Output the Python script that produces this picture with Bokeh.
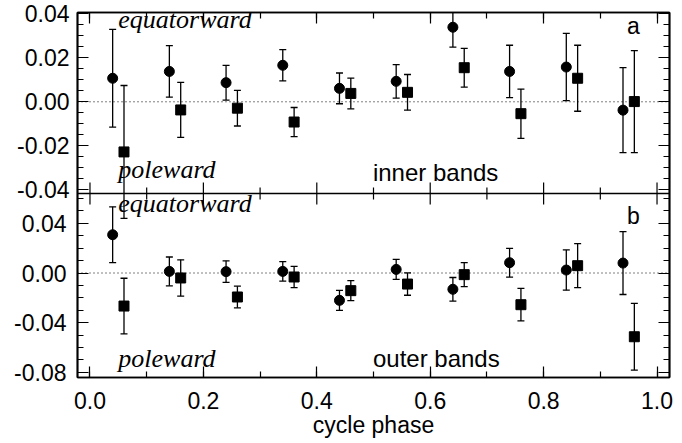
from bokeh.plotting import figure
from bokeh.models import (ColumnDataSource, Whisker, TeeHead, Span, Label, LinearAxis,
                          SingleIntervalTicker, FixedTicker, PrintfTickFormatter, Range1d)
from bokeh.embed import file_html
from bokeh.resources import INLINE

# ---- data ----
phase_circ = [0.04, 0.14, 0.24, 0.34, 0.44, 0.54, 0.64, 0.74, 0.84, 0.94]
phase_sq = [0.06, 0.16, 0.26, 0.36, 0.46, 0.56, 0.66, 0.76, 0.86, 0.96]

inner_circ = [0.0107, 0.0138, 0.0087, 0.0166, 0.0061, 0.0093, 0.0339, 0.0138, 0.0158, -0.0038]
inner_circ_err = [0.0222, 0.0117, 0.0079, 0.0071, 0.0070, 0.0076, 0.0090, 0.0119, 0.0153, 0.0193]
inner_sq = [-0.0228, -0.0037, -0.0029, -0.0092, 0.0038, 0.0043, 0.0155, -0.0054, 0.0107, 0.0001]
inner_sq_err = [0.0302, 0.0125, 0.0081, 0.0066, 0.0070, 0.0081, 0.0088, 0.0112, 0.0150, 0.0232]

outer_circ = [0.0308, 0.0013, 0.0011, 0.0013, -0.0220, 0.0029, -0.0131, 0.0083, 0.0024, 0.0080]
outer_circ_err = [0.0225, 0.0116, 0.0087, 0.0078, 0.0080, 0.0081, 0.0095, 0.0116, 0.0162, 0.0253]
outer_sq = [-0.0266, -0.0040, -0.0193, -0.0032, -0.0142, -0.0089, -0.0013, -0.0255, 0.0059, -0.0513]
outer_sq_err = [0.0224, 0.0146, 0.0087, 0.0085, 0.0081, 0.0090, 0.0097, 0.0131, 0.0177, 0.0268]

x_major_ticks = [0.0, 0.2, 0.4, 0.6, 0.8, 1.0]
x_minor_ticks = [0.1, 0.3, 0.5, 0.7, 0.9]
inner_yticks = [-0.04, -0.02, 0.0, 0.02, 0.04]
inner_yminor = [-0.04, -0.035, -0.03, -0.025, -0.02, -0.015, -0.01, -0.005, 0.0,
                0.005, 0.01, 0.015, 0.02, 0.025, 0.03, 0.035, 0.04]
outer_yticks = [-0.08, -0.04, 0.0, 0.04]
outer_yminor = [-0.08, -0.07, -0.06, -0.05, -0.04, -0.03, -0.02, -0.01, 0.0,
                0.01, 0.02, 0.03, 0.04, 0.05, 0.06]

# panel limits (data) and panel heights (px)
X_LIM = (-0.022, 1.022)
INNER_LIM = (-0.0417, 0.0406)
OUTER_LIM = (-0.0841, 0.064)
INNER_H = 181
OUTER_H = 184
FRAME_H = INNER_H + OUTER_H

FONT = "Liberation Sans"
SERIF = "Liberation Serif"
TICKFS = "23px"
LABEL_W = 60  # width Bokeh reserves for the first labelled y axis

inner_span = INNER_LIM[1] - INNER_LIM[0]
main_range = Range1d(INNER_LIM[1] - inner_span * FRAME_H / INNER_H, INNER_LIM[1])
outer_span = OUTER_LIM[1] - OUTER_LIM[0]
outer_range = Range1d(OUTER_LIM[0], OUTER_LIM[0] + outer_span * FRAME_H / OUTER_H)

p = figure(frame_width=592, frame_height=FRAME_H, x_range=Range1d(*X_LIM), y_range=main_range,
           output_backend="svg", toolbar_location=None,
           x_axis_location=None, y_axis_location=None,
           min_border_left=77, min_border_right=13, min_border_top=12, min_border_bottom=0)
p.extra_y_ranges = {"outer": outer_range}
p.grid.visible = False
p.outline_line_color = "black"
p.outline_line_width = 1.5
p.background_fill_color = "white"
p.border_fill_color = "white"


def style_axis(ax, labels=True, fmt="%.2f"):
    ax.major_tick_in = 11
    ax.major_tick_out = 0
    ax.minor_tick_in = 6
    ax.minor_tick_out = 0
    ax.axis_line_color = "black"
    ax.axis_line_width = 1.5
    ax.major_tick_line_color = "black"
    ax.minor_tick_line_color = "black"
    ax.major_tick_line_width = 1.2
    ax.minor_tick_line_width = 1.2
    if labels:
        ax.major_label_text_font = FONT
        ax.major_label_text_font_size = TICKFS
        ax.major_label_text_color = "black"
        ax.major_label_standoff = 8
        ax.formatter = PrintfTickFormatter(format=fmt)
    else:
        ax.major_label_text_font_size = "0px"
        ax.major_label_standoff = 0
        ax.major_label_text_alpha = 0


xt = SingleIntervalTicker(interval=0.2, num_minor_ticks=2)

# left: ticks of the lower panel (no labels), then labelled upper-panel axis,
# then the labels of the lower panel pulled back next to the frame
ax = LinearAxis(ticker=FixedTicker(ticks=outer_yticks, minor_ticks=outer_yminor), y_range_name="outer")
style_axis(ax, False)
p.add_layout(ax, "left")
ax = LinearAxis(ticker=FixedTicker(ticks=inner_yticks, minor_ticks=inner_yminor))
style_axis(ax, True)
p.add_layout(ax, "left")
ax = LinearAxis(ticker=FixedTicker(ticks=outer_yticks, minor_ticks=[]), y_range_name="outer")
style_axis(ax, True)
ax.major_label_standoff = 8 - LABEL_W
ax.axis_line_alpha = 0
ax.major_tick_in = 0
ax.minor_tick_in = 0
ax.major_tick_line_alpha = 0
ax.minor_tick_line_alpha = 0
p.add_layout(ax, "left")

# right: ticks only
for tk, rn in ((FixedTicker(ticks=inner_yticks, minor_ticks=inner_yminor), "default"),
               (FixedTicker(ticks=outer_yticks, minor_ticks=outer_yminor), "outer")):
    ax = LinearAxis(ticker=tk, y_range_name=rn)
    style_axis(ax, False)
    p.add_layout(ax, "right")

# top axis
ax = LinearAxis(ticker=xt)
style_axis(ax, False)
p.add_layout(ax, "above")

# bottom axis
ax = LinearAxis(ticker=xt)
style_axis(ax, True, "%.1f")
ax.major_label_standoff = 14
ax.axis_label = "cycle phase"
ax.axis_label_text_font = FONT
ax.axis_label_text_font_size = TICKFS
ax.axis_label_text_font_style = "normal"
ax.axis_label_text_color = "black"
ax.axis_label_standoff = 0
p.add_layout(ax, "below")

# panel boundary with ticks pointing into both panels
p.add_layout(Span(location=INNER_LIM[0], dimension="width", line_color="black", line_width=1.5))
p.scatter(x=x_major_ticks, y=[INNER_LIM[0]] * len(x_major_ticks), marker="dash",
          angle=90, angle_units="deg", size=22, line_color="black", line_width=1.2)
p.scatter(x=x_minor_ticks, y=[INNER_LIM[0]] * len(x_minor_ticks), marker="dash",
          angle=90, angle_units="deg", size=12, line_color="black", line_width=1.2)


def add_panel(circ, circ_err, sq, sq_err, rname):
    p.add_layout(Span(location=0, dimension="width", line_color="black",
                      line_width=1, line_dash="1 3", y_range_name=rname))
    upper_c = [v + e for v, e in zip(circ, circ_err)]
    lower_c = [v - e for v, e in zip(circ, circ_err)]
    upper_s = [v + e for v, e in zip(sq, sq_err)]
    lower_s = [v - e for v, e in zip(sq, sq_err)]
    src_c = ColumnDataSource(dict(x=phase_circ, y=circ, upper=upper_c, lower=lower_c))
    src_s = ColumnDataSource(dict(x=phase_sq, y=sq, upper=upper_s, lower=lower_s))
    for src in (src_c, src_s):
        w = Whisker(source=src, base="x", upper="upper", lower="lower", y_range_name=rname,
                    line_color="black", line_width=1.3,
                    upper_head=TeeHead(size=7, line_color="black", line_width=1.3),
                    lower_head=TeeHead(size=7, line_color="black", line_width=1.3))
        p.add_layout(w)
    p.scatter("x", "y", source=src_c, marker="circle", size=10, color="black", y_range_name=rname)
    p.scatter("x", "y", source=src_s, marker="square", size=10, color="black", y_range_name=rname)


add_panel(inner_circ, inner_circ_err, inner_sq, inner_sq_err, "default")
add_panel(outer_circ, outer_circ_err, outer_sq, outer_sq_err, "outer")


def add_text(x, y, txt, font, size, style="normal", rname="default"):
    p.add_layout(Label(x=x, y=y, text=txt, text_font=font, text_font_size=size,
                       text_font_style=style, text_color="black", y_range_name=rname,
                       text_baseline="alphabetic", text_align="left"))


add_text(0.05, 0.0373, "equatorward", SERIF, "26px", "italic")
add_text(0.05, -0.0309, "poleward", SERIF, "26px", "italic")
add_text(0.499, -0.0322, "inner bands", FONT, "24px")
add_text(0.947, 0.0344, "a", FONT, "23px")

add_text(0.05, 0.0563, "equatorward", SERIF, "26px", "italic", "outer")
add_text(0.05, -0.0685, "poleward", SERIF, "26px", "italic", "outer")
add_text(0.499, -0.0685, "outer bands", FONT, "24px", "normal", "outer")
add_text(0.947, 0.0458, "b", FONT, "23px", "normal", "outer")

open("out.html", "w").write(file_html(p, INLINE))
